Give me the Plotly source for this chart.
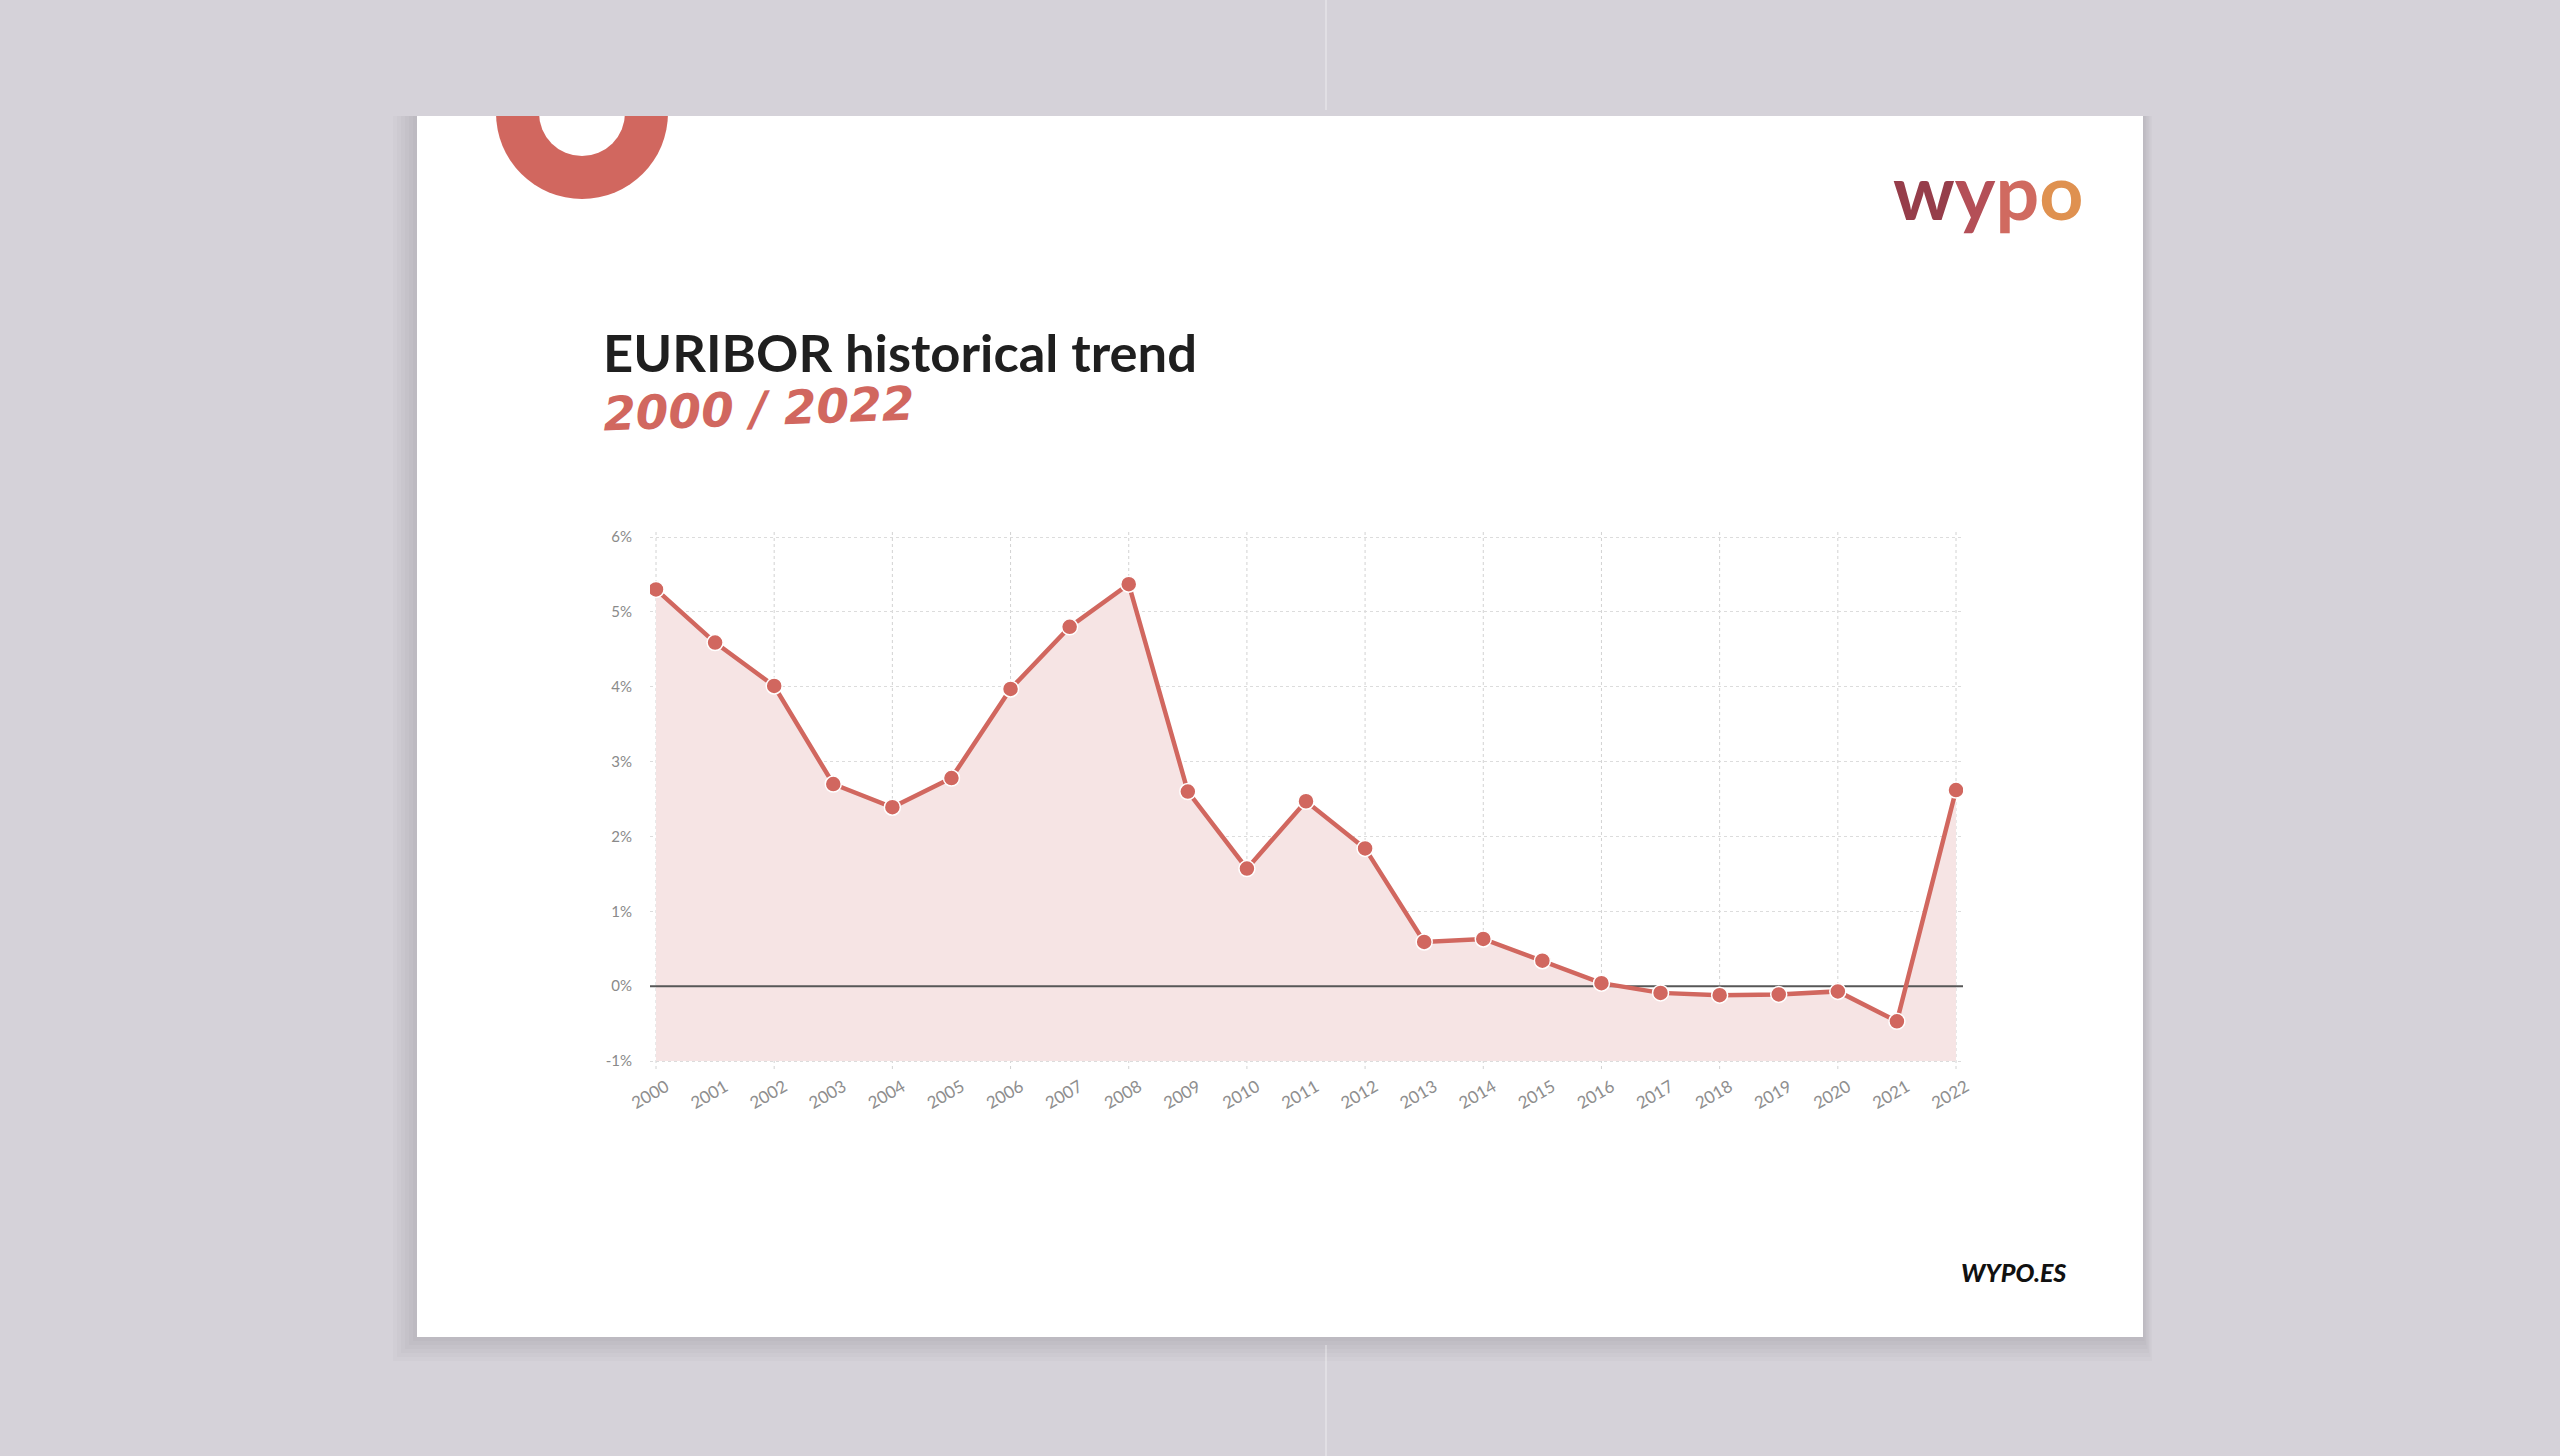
import plotly.graph_objects as go

# ---------------- data ----------------
YEARS = list(range(2000, 2023))
EURIBOR = [5.30, 4.59, 4.01, 2.70, 2.39, 2.78, 3.97, 4.80, 5.37, 2.60, 1.57, 2.47,
           1.84, 0.59, 0.63, 0.34, 0.04, -0.09, -0.12, -0.11, -0.07, -0.47, 2.62]
Y_TICKS = [-1, 0, 1, 2, 3, 4, 5, 6]
Y_TICK_LABELS = ["-1%", "0%", "1%", "2%", "3%", "4%", "5%", "6%"]
X_TICK_LABELS = [str(y) for y in YEARS]
GRID_YEARS = YEARS[::2]

TITLE = "EURIBOR historical trend"
SUBTITLE = "2000 / 2022"

# ---------------- layout helpers ----------------
W, H = 2560, 1456
def fx(px):
    return px / W
def fy(py):
    return 1 - py / H

BG = "#d5d2d9"
RED = "#d1675f"
FILL = "#f6e4e4"

# plot box (pixels): top/bottom gridlines at 6% / -1%
PL, PR = 650, 1963
Y_TOP_PX, Y_BOT_PX = 537, 1061
EXT = 8
PT, PB = Y_TOP_PX - EXT, Y_BOT_PX + EXT
X_FIRST_PX, X_LAST_PX = 656, 1956

y_unit = (Y_BOT_PX - Y_TOP_PX) / float(max(Y_TICKS) - min(Y_TICKS))
y_lo = min(Y_TICKS) - EXT / y_unit
y_hi = max(Y_TICKS) + EXT / y_unit
x_unit = (X_LAST_PX - X_FIRST_PX) / float(YEARS[-1] - YEARS[0])
x_lo = YEARS[0] - (X_FIRST_PX - PL) / x_unit
x_hi = YEARS[-1] + (PR - X_LAST_PX) / x_unit

fig = go.Figure()

floor = min(Y_TICKS)
# baseline for the area fill (axis minimum)
fig.add_trace(go.Scatter(
    x=YEARS, y=[floor] * len(YEARS), mode="lines",
    line=dict(width=0, color="rgba(0,0,0,0)"), hoverinfo="skip", showlegend=False))
# area fill
fig.add_trace(go.Scatter(
    x=YEARS, y=EURIBOR, mode="lines", fill="tonexty", fillcolor=FILL,
    line=dict(width=0, color="rgba(0,0,0,0)"), hoverinfo="skip", showlegend=False))
# zero reference line (above the fill)
fig.add_trace(go.Scatter(
    x=[x_lo, x_hi], y=[0, 0], mode="lines",
    line=dict(color="#575757", width=2), hoverinfo="skip", showlegend=False))
# data line + markers
fig.add_trace(go.Scatter(
    x=YEARS, y=EURIBOR, mode="lines+markers",
    line=dict(color=RED, width=4.5),
    marker=dict(size=16, color=RED, line=dict(color="white", width=1.5)),
    showlegend=False))

shapes = []
# soft card shadow layers (mostly left and bottom)
for k in range(6, 0, -1):
    shapes.append(dict(type="rect", xref="paper", yref="paper", layer="below",
                       x0=fx(417 - 4 * k), x1=fx(2143 + 1.5 * k), y0=fy(1337 + 4 * k), y1=fy(116),
                       fillcolor="rgba(70,65,80,0.028)", line=dict(width=0)))
# faint background seam
for y0, y1 in [(0, 110), (1345, 1456)]:
    shapes.append(dict(type="line", xref="paper", yref="paper", layer="below",
                       x0=fx(1326), x1=fx(1326), y0=fy(y0), y1=fy(y1),
                       line=dict(color="rgba(255,255,255,0.3)", width=2)))
# card
shapes.append(dict(type="rect", xref="paper", yref="paper", layer="below",
                   x0=fx(417), x1=fx(2143), y0=fy(1337), y1=fy(116),
                   fillcolor="white", line=dict(width=0)))
# decorative ring (clipped by the card top)
cx, cy, R, r = 582, 113, 86, 43
shapes.append(dict(type="circle", xref="paper", yref="paper", layer="below",
                   x0=fx(cx - R), x1=fx(cx + R), y0=fy(cy + R), y1=fy(cy - R),
                   fillcolor=RED, line=dict(width=0)))
shapes.append(dict(type="circle", xref="paper", yref="paper", layer="below",
                   x0=fx(cx - r), x1=fx(cx + r), y0=fy(cy + r), y1=fy(cy - r),
                   fillcolor="white", line=dict(width=0)))
shapes.append(dict(type="rect", xref="paper", yref="paper", layer="below",
                   x0=fx(480), x1=fx(700), y0=fy(116), y1=1,
                   fillcolor=BG, line=dict(width=0)))
# vertical dotted gridlines every 2 years
for gy in GRID_YEARS:
    shapes.append(dict(type="line", xref="x", yref="paper", layer="below",
                       x0=gy, x1=gy, y0=fy(PB), y1=fy(PT),
                       line=dict(color="#d2d2d2", width=1, dash="dot")))

annotations = [
    dict(text=TITLE, xref="paper", yref="paper", x=fx(601), y=fy(351),
         xanchor="left", yanchor="middle", showarrow=False,
         font=dict(family="Lato", size=52.5, color="#1f1f1f", weight=700)),
    dict(text=SUBTITLE, xref="paper", yref="paper", x=fx(600), y=fy(408),
         xanchor="left", yanchor="middle", showarrow=False, textangle=-2,
         font=dict(family="DejaVu Sans", size=47, color=RED, weight=700, style="italic")),
    dict(text=("<span style='color:#963d4a'>w</span><span style='color:#b44f57'>y</span>"
               "<span style='color:#d06a60'>p</span><span style='color:#df9150'>o</span>"),
         xref="paper", yref="paper", x=fx(2085), y=fy(190),
         xanchor="right", yanchor="middle", showarrow=False,
         font=dict(family="Lato", size=77, weight=700)),
    dict(text="WYPO.ES", xref="paper", yref="paper", x=fx(2068), y=fy(1272),
         xanchor="right", yanchor="middle", showarrow=False,
         font=dict(family="Lato", size=25, color="#111", weight=900, style="italic")),
]

fig.update_layout(
    width=W, height=H,
    margin=dict(l=0, r=0, t=0, b=0, pad=0),
    paper_bgcolor=BG, plot_bgcolor="rgba(0,0,0,0)",
    shapes=shapes, annotations=annotations,
    font=dict(family="Lato"),
    xaxis=dict(domain=[fx(PL), fx(PR)], range=[x_lo, x_hi], tickmode="array",
               tickvals=YEARS, ticktext=X_TICK_LABELS, tickangle=-30,
               showgrid=False, zeroline=False, showline=False, automargin=False,
               ticks="", fixedrange=True, ticklabelstandoff=4, ticklabelshift=10,
               tickfont=dict(family="Lato", size=17, color="#8e8e8e")),
    yaxis=dict(domain=[fy(PB), fy(PT)], range=[y_lo, y_hi], tickmode="array",
               tickvals=Y_TICKS, ticktext=Y_TICK_LABELS, automargin=False,
               showgrid=True, gridcolor="#dcdcdc", gridwidth=1, griddash="dot",
               zeroline=False, showline=False, fixedrange=True,
               ticks="outside", ticklen=14, tickcolor="rgba(0,0,0,0)",
               tickfont=dict(family="Lato", size=15, color="#8a8a8a")),
)

fig.write_html("out.html")
